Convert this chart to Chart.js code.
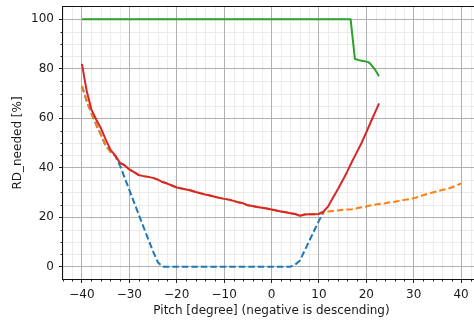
<!DOCTYPE html>
<html>
<head>
<meta charset="utf-8">
<script src="https://cdn.jsdelivr.net/npm/chart.js@4.4.1/dist/chart.umd.min.js"></script>
<style>
  html, body { margin: 0; padding: 0; background: #fff; overflow: hidden; }
  #wrap { width: 490px; height: 322px; }
</style>
</head>
<body>
<div id="wrap"><canvas id="chart" width="490" height="322"></canvas></div>
<script>
// Pitch grids (degrees) for each curve
const pitchBlue = [-40,-39,-38,-37,-36,-35,-34,-33,-32,-31,-30,-29,-28,-27,-26,-25,-24,-23,-22,-21,-20,-19,-18,-17,-16,-15,-14,-13,-12,-11,-10,-9,-8,-7,-6,-5,-4,-3,-2,-1,0,1,2,3,4,5,6,7,8,9,10,11];
const rdBlue = [73,67,62,57.5,53.4,49,46.5,44.8,41,36,31,26,21,16,11,6.2,1.8,0,0,0,0,0,0,0,0,0,0,0,0,0,0,0,0,0,0,0,0,0,0,0,0,0,0,0,0,0.8,2.5,6.5,10.5,14.5,18.5,22];

const pitchOrange = [-40,-39,-38,-37,-36,-35,-34,-33,-32,-31,-30,-29,-28,-27,-26,-25,-24,-23,-22,-21,-20,-19,-18,-17,-16,-15,-14,-13,-12,-11,-10,-9,-8,-7,-6,-5,-4,-3,-2,-1,0,1,2,3,4,5,6,7,8,9,10,11,12,13,14,15,16,17,18,19,20,21,22,23,24,25,26,27,28,29,30,31,32,33,34,35,36,37,38,39,40];
const rdOrange = [73,67,62,57.5,53.4,49,46.5,44.8,42,41,39.3,38.2,37,36.6,36.3,35.9,35.2,34.2,33.6,32.8,32,31.6,31.2,30.8,30.2,29.7,29.2,28.8,28.3,27.8,27.4,27.1,26.6,26,25.6,24.8,24.5,24.1,23.8,23.5,23.1,22.7,22.3,22,21.6,21.3,20.6,21.1,21.2,21.2,21.3,22,22.3,22.5,22.7,23,23.1,23.2,23.6,24,24.3,24.8,25.1,25.4,25.6,26,26.2,26.6,27,27.3,27.7,28.2,28.9,29.5,30,30.5,31,31.4,32,32.8,33.7];

const pitchGreen = [-40,-30,-20,-10,0,10,16.7,17.6,18.5,19.3,20.3,20.8,21.8,22.7];
const rdGreen = [100,100,100,100,100,100,100,84,83.5,83.2,82.8,82.2,79.8,77];

const pitchRed = [-40,-39,-38,-37,-36,-35,-34,-33,-32,-31,-30,-29,-28,-27,-26,-25,-24,-23,-22,-21,-20,-19,-18,-17,-16,-15,-14,-13,-12,-11,-10,-9,-8,-7,-6,-5,-4,-3,-2,-1,0,1,2,3,4,5,6,7,8,9,10,11,12,13,14,15,16,17,18,19,20,21,22,22.7];
const rdRed = [82,71,63.5,59.5,56,51.5,47.3,45,42,41,39.3,38.2,37,36.6,36.3,35.9,35.2,34.2,33.6,32.8,32,31.6,31.2,30.8,30.2,29.7,29.2,28.8,28.3,27.8,27.4,27.1,26.6,26,25.6,24.8,24.5,24.1,23.8,23.5,23.1,22.7,22.3,22,21.6,21.3,20.6,21.1,21.2,21.2,21.3,22.3,24.5,28,31.3,34.8,38.5,42.5,46.2,50,54.3,58.7,63,66];

// Axis ticks
const xMajorTicks = [-40,-30,-20,-10,0,10,20,30,40];
const yMajorTicks = [0,20,40,60,80,100];
const xMinorStep = 2;
const yMinorStep = 5;

const FONT = "'DejaVu Sans', sans-serif";
const TXT = '#1a1a1a';

function pts(xs, ys) { return xs.map((x, i) => ({ x: x, y: ys[i] })); }
function fmt(v) { return v < 0 ? '\u2212' + Math.abs(v) : String(v); }

// Minor grid + minor tick marks, and the black axes frame
const minorGrid = {
  id: 'minorGrid',
  beforeDraw(chart) {
    const { ctx, chartArea: a, scales: { x, y } } = chart;
    ctx.save();
    ctx.lineWidth = 1;
    for (let v = -44; v <= 44; v += xMinorStep) {
      if (v % 10 === 0) continue;
      const px = Math.round(x.getPixelForValue(v)) + 0.5;
      ctx.strokeStyle = '#ebebeb';
      ctx.beginPath(); ctx.moveTo(px, a.top); ctx.lineTo(px, a.bottom); ctx.stroke();
      ctx.strokeStyle = '#222';
      ctx.beginPath(); ctx.moveTo(px, a.bottom); ctx.lineTo(px, a.bottom + 2.5); ctx.stroke();
    }
    for (let v = 0; v < 105; v += yMinorStep) {
      if (v % 20 === 0) continue;
      const py = Math.round(y.getPixelForValue(v)) + 0.5;
      ctx.strokeStyle = '#ebebeb';
      ctx.beginPath(); ctx.moveTo(a.left, py); ctx.lineTo(a.right, py); ctx.stroke();
      ctx.strokeStyle = '#222';
      ctx.beginPath(); ctx.moveTo(a.left, py); ctx.lineTo(a.left - 2.5, py); ctx.stroke();
    }
    ctx.restore();
  },
  afterDatasetsDraw(chart) {
    const { ctx, chartArea: a } = chart;
    ctx.save();
    ctx.strokeStyle = '#111';
    ctx.lineWidth = 1;
    ctx.strokeRect(Math.round(a.left) - 0.5, Math.round(a.top) - 0.5,
                   Math.round(a.right - a.left) + 1, Math.round(a.bottom - a.top) + 1);
    ctx.restore();
  }
};

const line = (label, data, color, dashed, order) => ({
  label, data, borderColor: color, backgroundColor: color,
  borderWidth: 2, borderDash: dashed ? [6.5, 3] : [],
  borderCapStyle: 'butt', borderJoinStyle: 'round',
  pointRadius: 0, tension: 0, fill: false, order
});

new Chart(document.getElementById('chart'), {
  type: 'line',
  data: {
    datasets: [
      line('blue', pts(pitchBlue, rdBlue), '#1f77b4', true, 4),
      line('orange', pts(pitchOrange, rdOrange), '#ff7f0e', true, 3),
      line('green', pts(pitchGreen, rdGreen), '#2ca02c', false, 2),
      line('red', pts(pitchRed, rdRed), '#d62728', false, 1)
    ]
  },
  options: {
    responsive: false,
    animation: false,
    layout: { padding: { top: 7, right: 10, left: 0, bottom: 0 } },
    plugins: { legend: { display: false }, tooltip: { enabled: false } },
    scales: {
      x: {
        type: 'linear', min: -44, max: 44,
        afterBuildTicks: s => { s.ticks = xMajorTicks.map(v => ({ value: v })); },
        afterFit: s => { s.height = 43; s.paddingLeft = 0; s.paddingRight = 0; },
        border: { display: false },
        grid: { color: '#b0b0b0', lineWidth: 1, tickColor: '#222', tickLength: 4, tickWidth: 1 },
        ticks: { callback: v => fmt(v), font: { family: FONT, size: 12 }, color: TXT, padding: 5, maxRotation: 0 },
        title: { display: true, text: 'Pitch [degree] (negative is descending)', font: { family: FONT, size: 12 }, color: TXT, padding: { top: 4, bottom: 4 } }
      },
      y: {
        type: 'linear', min: -5, max: 105,
        afterBuildTicks: s => { s.ticks = yMajorTicks.map(v => ({ value: v })); },
        afterFit: s => { s.width = 63; s.paddingTop = 0; s.paddingBottom = 0; },
        border: { display: false },
        grid: { color: '#b0b0b0', lineWidth: 1, tickColor: '#222', tickLength: 4, tickWidth: 1 },
        ticks: { callback: v => fmt(v), font: { family: FONT, size: 12 }, color: TXT, padding: 5 },
        title: { display: true, text: 'RD_needed [%]', font: { family: FONT, size: 12 }, color: TXT, padding: { top: 11, bottom: 4 } }
      }
    }
  },
  plugins: [minorGrid]
});
</script>
</body>
</html>
